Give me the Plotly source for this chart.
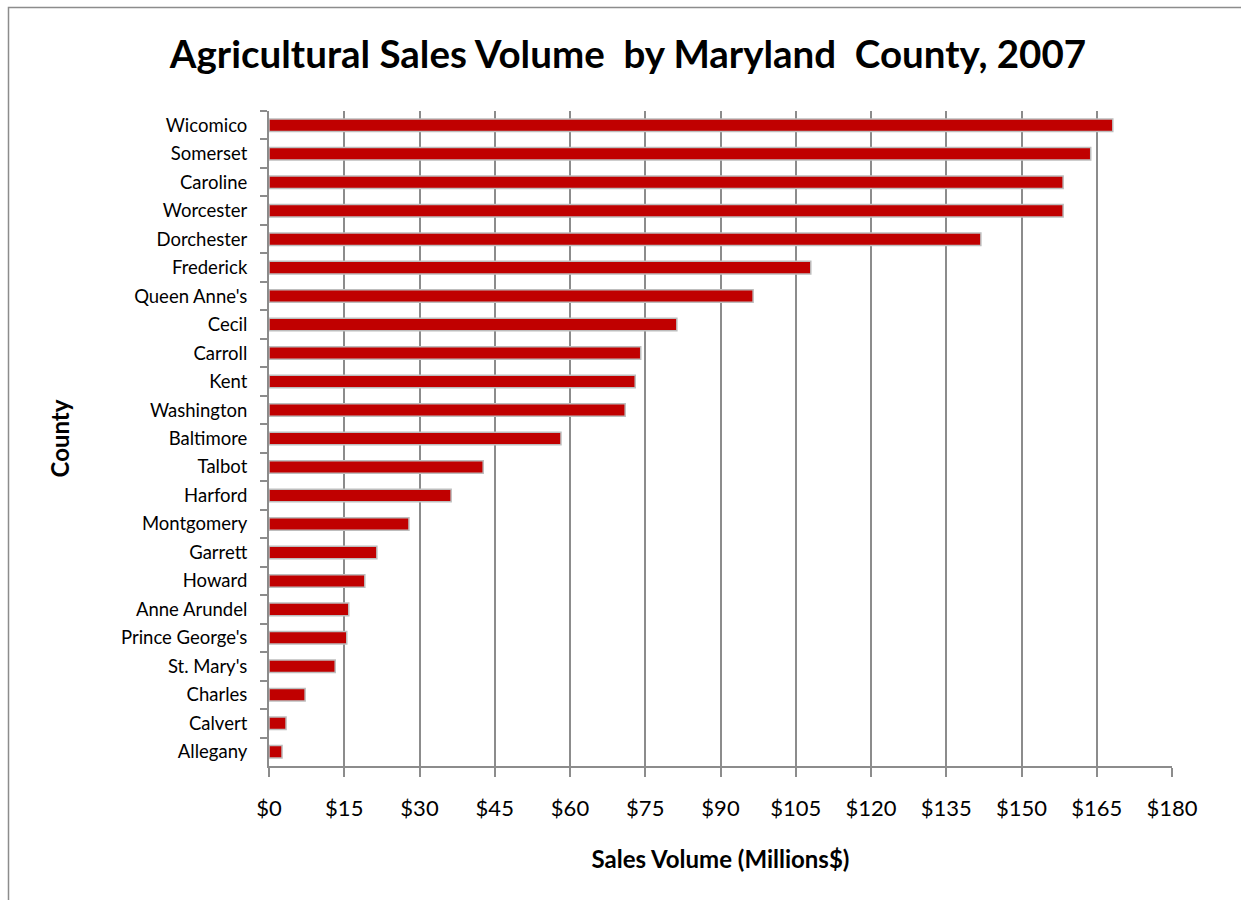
import plotly.graph_objects as go

counties = ["Wicomico", "Somerset", "Caroline", "Worcester", "Dorchester", "Frederick",
            "Queen Anne's", "Cecil", "Carroll", "Kent", "Washington", "Baltimore", "Talbot",
            "Harford", "Montgomery", "Garrett", "Howard", "Anne Arundel", "Prince George's",
            "St. Mary's", "Charles", "Calvert", "Allegany"]
sales = [168.2, 163.8, 158.3, 158.3, 141.9, 108.0, 96.5, 81.3, 74.1, 73.0, 71.0, 58.2, 42.7,
         36.3, 27.9, 21.5, 19.1, 15.9, 15.5, 13.2, 7.2, 3.4, 2.6]
x_ticks = list(range(0, 181, 15))
x_tick_labels = ["$" + str(v) for v in x_ticks]

FONT = "Lato"
GRID = "#8c8c8c"

fig = go.Figure(go.Bar(
    x=sales, y=counties, orientation="h",
    marker=dict(color="#c00000", line=dict(color="#bdbdbd", width=1.5)),
    width=0.44,
))

fig.update_layout(
    width=1241, height=900,
    margin=dict(l=269, r=69, t=111, b=134),
    paper_bgcolor="white", plot_bgcolor="white",
    showlegend=False,
    font=dict(family=FONT, color="black"),
    title=dict(text="<b>Agricultural Sales Volume  by Maryland  County, 2007</b>",
               x=0.506, xanchor="center", y=0.939, yanchor="middle",
               font=dict(family=FONT, size=38.5, color="black")),
    xaxis=dict(range=[0, 180], tickvals=x_ticks, ticktext=x_tick_labels,
               showgrid=True, gridcolor=GRID, gridwidth=2,
               showline=True, linecolor=GRID, linewidth=2,
               ticks="outside", ticklen=9, tickcolor=GRID, tickwidth=2,
               tickfont=dict(family=FONT, size=22, color="black"),
               ticklabelstandoff=13, zeroline=False,
               title=dict(text="<b>Sales Volume (Millions$)</b>", standoff=31,
                          font=dict(family=FONT, size=24, color="black"))),
    yaxis=dict(autorange="reversed", showgrid=False,
               showline=True, linecolor=GRID, linewidth=2,
               ticks="outside", tickson="boundaries", ticklen=7, tickcolor=GRID, tickwidth=2,
               tickfont=dict(family=FONT, size=18.5, color="black"),
               ticklabelstandoff=16,
               title=dict(text="<b>County</b>", standoff=45,
                          font=dict(family=FONT, size=24, color="black"))),
    shapes=[dict(type="rect", xref="paper", yref="paper",
                 x0=(8.5 - 269) / 903, x1=1.3, y0=-0.4, y1=1 + (111 - 7.5) / 655,
                 line=dict(color="#8c8c8c", width=1.5), fillcolor="rgba(0,0,0,0)",
                 layer="below")],
)

fig.write_html("out.html")
